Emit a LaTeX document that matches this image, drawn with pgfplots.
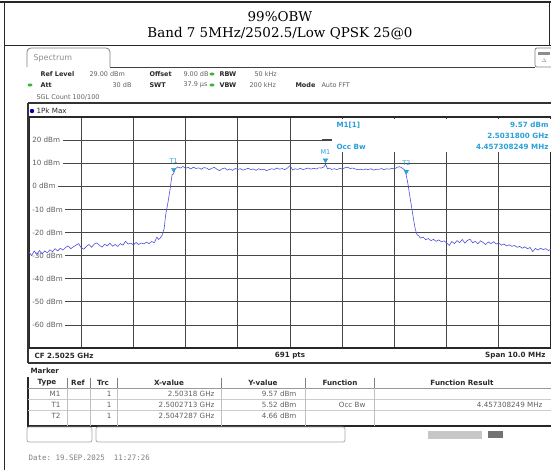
\documentclass[border=0pt]{standalone}
\usepackage{fontspec}
\setmainfont{DejaVu Sans}
\setmonofont{DejaVu Sans Mono}
\newfontfamily\titlefont{DejaVu Serif}
\usepackage{pgfplots}
\usepackage{pgfplotstable}
\pgfplotsset{compat=1.18}
\definecolor{trace}{RGB}{80,80,220}
\definecolor{mk}{RGB}{40,160,215}
\definecolor{txt}{RGB}{95,95,95}
\definecolor{lbl}{RGB}{40,40,40}
\definecolor{grn}{RGB}{60,180,60}
\definecolor{gridc}{RGB}{70,70,70}
\newcommand{\fs}{\fontsize{7.2}{8.6}\selectfont}
\newcommand{\fb}{\fontsize{7.2}{8.6}\selectfont\bfseries}
\newcommand{\fis}{\fontsize{6.5}{8}\selectfont}
\newcommand{\fib}{\fontsize{6.5}{8}\selectfont\bfseries}

\pgfplotstableread{
x y
2497.50 -28.5
2497.55 -30.0
2497.60 -28.0
2497.65 -29.5
2497.70 -27.8
2497.75 -29.2
2497.80 -28.0
2497.85 -28.8
2497.90 -27.5
2497.95 -28.3
2498.00 -27.0
2498.05 -28.0
2498.10 -26.8
2498.15 -27.6
2498.20 -26.5
2498.25 -25.8
2498.30 -27.0
2498.35 -26.2
2498.40 -25.5
2498.45 -24.8
2498.50 -26.6
2498.55 -27.2
2498.60 -26.0
2498.65 -25.2
2498.70 -26.4
2498.75 -25.0
2498.80 -24.5
2498.85 -25.6
2498.90 -26.3
2498.95 -25.1
2499.00 -25.8
2499.05 -24.6
2499.10 -25.9
2499.15 -25.2
2499.20 -26.0
2499.25 -24.8
2499.30 -25.5
2499.35 -23.8
2499.40 -25.0
2499.45 -24.6
2499.50 -25.4
2499.55 -24.3
2499.60 -25.2
2499.65 -24.5
2499.70 -24.9
2499.75 -24.2
2499.80 -24.8
2499.85 -23.9
2499.90 -24.4
2499.95 -22.0
2499.98 -23.0
2500.01 -22.5
2500.05 -21.2
2500.09 -18.2
2500.12 -12.0
2500.16 -7.3
2500.20 -1.6
2500.24 4.9
2500.2713 5.52
2500.30 7.5
2500.35 8.4
2500.40 7.9
2500.45 8.6
2500.50 7.8
2500.55 8.2
2500.60 7.5
2500.65 8.3
2500.70 7.7
2500.75 8.0
2500.80 7.4
2500.85 8.1
2500.90 7.9
2500.95 7.2
2501.00 7.8
2501.05 8.2
2501.10 7.4
2501.15 6.8
2501.20 7.6
2501.25 7.9
2501.30 7.0
2501.35 7.5
2501.40 6.9
2501.45 7.7
2501.50 7.3
2501.55 7.6
2501.60 7.0
2501.65 7.4
2501.70 7.8
2501.75 7.2
2501.80 7.5
2501.85 6.9
2501.90 7.6
2501.95 7.1
2502.00 7.4
2502.05 6.8
2502.10 7.2
2502.15 7.6
2502.20 7.3
2502.25 7.9
2502.30 7.4
2502.35 7.7
2502.40 7.2
2502.45 7.9
2502.50 9.0
2502.55 7.1
2502.60 7.6
2502.65 7.3
2502.70 7.8
2502.75 7.2
2502.80 7.6
2502.85 7.9
2502.90 7.4
2502.95 7.8
2503.00 7.5
2503.05 8.0
2503.10 7.9
2503.15 8.4
2503.18 9.57
2503.22 7.6
2503.25 7.9
2503.30 7.3
2503.35 7.6
2503.40 7.2
2503.45 7.8
2503.50 7.5
2503.55 8.0
2503.60 8.3
2503.65 7.7
2503.70 7.9
2503.75 7.5
2503.80 7.2
2503.85 7.4
2503.90 7.1
2503.95 7.5
2504.00 7.2
2504.05 7.6
2504.10 7.0
2504.15 7.4
2504.20 7.3
2504.25 7.7
2504.30 7.2
2504.35 7.6
2504.40 7.4
2504.45 7.8
2504.50 7.5
2504.55 8.2
2504.60 8.5
2504.65 7.9
2504.70 7.0
2504.7287 4.66
2504.76 1.0
2504.79 -3.5
2504.83 -9.0
2504.87 -14.8
2504.90 -18.5
2504.93 -20.8
2504.97 -21.6
2505.00 -22.4
2505.05 -22.0
2505.10 -23.1
2505.15 -22.6
2505.20 -23.5
2505.25 -23.0
2505.30 -23.8
2505.35 -23.2
2505.40 -24.0
2505.45 -23.6
2505.50 -24.5
2505.55 -25.6
2505.60 -23.9
2505.65 -24.8
2505.70 -23.5
2505.75 -24.4
2505.80 -23.0
2505.85 -24.6
2505.90 -23.4
2505.95 -22.9
2506.00 -24.5
2506.05 -23.8
2506.10 -24.9
2506.15 -23.6
2506.20 -24.3
2506.25 -25.2
2506.30 -24.1
2506.35 -24.8
2506.40 -24.0
2506.45 -25.0
2506.50 -24.6
2506.55 -25.5
2506.60 -25.0
2506.65 -25.8
2506.70 -25.3
2506.75 -26.0
2506.80 -25.6
2506.85 -26.4
2506.90 -26.0
2506.95 -26.8
2507.00 -26.2
2507.05 -27.0
2507.10 -26.5
2507.15 -28.3
2507.20 -26.9
2507.25 -27.6
2507.30 -26.8
2507.35 -27.4
2507.40 -27.0
2507.45 -27.8
2507.50 -27.2
}\tracedata

\pgfplotstableread{
x y lab
2500.2713 5.52 T1
2504.7287 4.66 T2
2503.18 9.57 M1
}\markers

\begin{document}
\begin{tikzpicture}
\path[use as bounding box] (0,0) rectangle (551bp,-470bp);
\begin{axis}[at={(29bp,-117bp)}, anchor=north west,
  width=522bp, height=231bp, scale only axis,
  xmin=2497.5, xmax=2507.5, ymin=-70, ymax=30,
  xtick={2498.5,2499.5,...,2506.5}, xticklabels={},
  ytick={-60,-50,-40,-30,-20,-10,0,10,20},
  yticklabels={-60 dBm,-50 dBm,-40 dBm,-30 dBm,-20 dBm,-10 dBm,0 dBm,10 dBm,20 dBm},
  major tick length=0pt,
  grid=major, grid style={gridc, line width=0.7bp},
  axis line style={lbl, line width=1.2bp},
  yticklabel style={anchor=west, xshift=0.6bp, fill=white, inner xsep=2.5pt, inner ysep=1pt, font=\fs, text=txt},
  clip=true]
\addplot[trace, line width=0.6bp, mark=none] table[x=x,y=y] {\tracedata};
\addplot[only marks, mark=triangle*, mark size=2.6bp,
  mark options={yshift=4bp, rotate=180, fill=mk, draw=mk},
  nodes near coords, point meta=explicit symbolic,
  nodes near coords style={font=\fontsize{6.5}{7}\selectfont, text=mk, anchor=south, yshift=5bp, inner sep=0.5pt}]
  table[x=x,y=y,meta=lab] {\markers};
\end{axis}
\begin{scope}[x=1bp,y=-1bp]
% outer frame and title
\draw[line width=1.6bp, black!85] (0,2) -- (551,2);
\draw[line width=1bp, black!85] (4,2) -- (4,470);
\draw[line width=1bp, black!85] (549,2) -- (549,45);
\draw[line width=1bp, black!85] (4,45) -- (551,45);
\node[font=\titlefont\fontsize{13.5}{15}\selectfont] at (280,17) {99\%OBW};
\node[font=\titlefont\fontsize{13.5}{15}\selectfont] at (280,34) {Band 7 5MHz/2502.5/Low QPSK 25@0};
% tab
\draw[black!50, line width=0.8bp, rounded corners=4bp] (27,67) -- (27,48) -- (110,48) -- (110,67);
\draw[black!75, line width=1bp] (110,67) -- (535,67);
\node[anchor=west, font=\fontsize{8}{9}\selectfont, text=black!45] at (30,58) {Spectrum};
\draw[black!50, line width=0.8bp, rounded corners=2bp] (535,48) rectangle (553,67);
\fill[black!45] (538,52) rectangle (550,55);
\node[font=\fontsize{5}{5}\selectfont, text=black!50] at (544,61) {$\Delta$};
% info rows
\node[anchor=west, font=\fib, text=lbl] at (37,74) {Ref Level};
\node[anchor=west, font=\fis, text=txt] at (86,74) {29.00 dBm};
\node[anchor=west, font=\fib, text=lbl] at (146,74) {Offset};
\node[anchor=west, font=\fis, text=txt] at (180,74) {9.00 dB};
\fill[grn] (212,74) ellipse (2.5bp and 1.5bp);
\node[anchor=west, font=\fib, text=lbl] at (216,74) {RBW};
\node[anchor=west, font=\fis, text=txt] at (251,74) {50 kHz};
\fill[grn] (30,85) ellipse (2.5bp and 1.5bp);
\node[anchor=west, font=\fib, text=lbl] at (37,85) {Att};
\node[anchor=east, font=\fis, text=txt] at (135,85) {30 dB};
\node[anchor=west, font=\fib, text=lbl] at (146,85) {SWT};
\node[anchor=west, font=\fis, text=txt] at (180,85) {37.9 µs};
\fill[grn] (212,85) ellipse (2.5bp and 1.5bp);
\node[anchor=west, font=\fib, text=lbl] at (216,85) {VBW};
\node[anchor=west, font=\fis, text=txt] at (246,85) {200 kHz};
\node[anchor=west, font=\fib, text=lbl] at (292,85) {Mode};
\node[anchor=west, font=\fis, text=txt] at (318,85) {Auto FFT};
\node[anchor=west, font=\fis, text=txt] at (33,97) {SGL Count 100/100};
% trace window
\draw[black!80, line width=1.3bp] (28,103) -- (552,103);
\draw[black!80, line width=1.3bp] (28,103) -- (28,363);
\draw[black!80, line width=1.3bp] (28,363) -- (552,363);
\fill[blue!70!black] (32,111) circle (2.2bp);
\node[anchor=west, font=\fs, text=lbl] at (33,111) {1Pk Max};
% marker info box
\fill[white] (332,118.5) rectangle (551,152);
\draw[gridc, line width=0.7bp] (322,139) -- (332,139);
\node[anchor=west, font=\fb, text=mk] at (333,125) {M1[1]};
\node[anchor=east, font=\fb, text=mk] at (552,125) {9.57 dBm};
\node[anchor=east, font=\fb, text=mk] at (552,136) {2.5031800 GHz};
\node[anchor=west, font=\fb, text=mk] at (333,147) {Occ Bw};
\node[anchor=east, font=\fb, text=mk] at (552,147) {4.457308249 MHz};
% bottom of graph
\node[anchor=west, font=\fb, text=lbl] at (31,356) {CF 2.5025 GHz};
\node[font=\fb, text=lbl] at (290,356) {691 pts};
\node[anchor=east, font=\fb, text=lbl] at (549,356) {Span 10.0 MHz};
% marker table
\node[anchor=west, font=\fb, text=lbl] at (27,371) {Marker};
\draw[black!85, line width=1.3bp] (28,377) -- (28,426) -- (552,426);
\draw[black!40, line width=0.6bp] (28,388) -- (552,388);
\draw[black!20, line width=0.5bp] (28,399) -- (552,399);
\draw[black!20, line width=0.5bp] (28,410) -- (552,410);
\foreach \cx in {67,90,117,221,305,374} {
  \draw[black!50, line width=0.6bp] (\cx,378) -- (\cx,388);
  \draw[black!25, line width=0.5bp] (\cx,388) -- (\cx,426);
}
\node[font=\fb, text=lbl] at (47,383) {Type};
\node[font=\fb, text=lbl] at (78,383) {Ref};
\node[font=\fb, text=lbl] at (103,383) {Trc};
\node[font=\fb, text=lbl] at (169,383) {X-value};
\node[font=\fb, text=lbl] at (263,383) {Y-value};
\node[font=\fb, text=lbl] at (340,383) {Function};
\node[font=\fb, text=lbl] at (462,383) {Function Result};
\node[anchor=east, font=\fs, text=txt] at (64,393.5) {M1};
\node[anchor=east, font=\fs, text=txt] at (64,404.5) {T1};
\node[anchor=east, font=\fs, text=txt] at (64,415.5) {T2};
\foreach \ry in {393.5,404.5,415.5} {\node[anchor=east, font=\fs, text=txt] at (115,\ry) {1};}
\node[anchor=east, font=\fs, text=txt] at (218,393.5) {2.50318 GHz};
\node[anchor=east, font=\fs, text=txt] at (218,404.5) {2.5002713 GHz};
\node[anchor=east, font=\fs, text=txt] at (218,415.5) {2.5047287 GHz};
\node[anchor=east, font=\fs, text=txt] at (300,393.5) {9.57 dBm};
\node[anchor=east, font=\fs, text=txt] at (300,404.5) {5.52 dBm};
\node[anchor=east, font=\fs, text=txt] at (300,415.5) {4.66 dBm};
\node[anchor=east, font=\fs, text=txt] at (369,404.5) {Occ Bw};
\node[anchor=east, font=\fs, text=txt] at (546,404.5) {4.457308249 MHz};
% status boxes
\draw[black!35, line width=0.7bp, rounded corners=2bp] (27,427) rectangle (92,442);
\draw[black!35, line width=0.7bp, rounded corners=2bp] (96,427) rectangle (345,442);
\fill[black!22] (428,431) rectangle (482,439);
\fill[black!55] (488,431) rectangle (503,438);
\node[anchor=west, font=\ttfamily\fontsize{7.5}{8}\selectfont, text=black!50] at (25,458) {Date: 19.SEP.2025\ \ 11:27:26};
\end{scope}
\end{tikzpicture}
\end{document}
